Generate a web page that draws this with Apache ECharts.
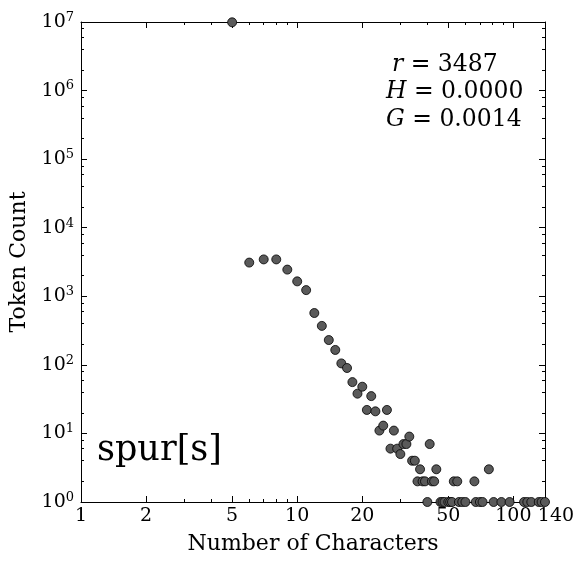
<!DOCTYPE html>
<html>
<head>
<meta charset="utf-8">
<title>spur[s]</title>
<script src="https://cdn.jsdelivr.net/npm/echarts@6/dist/echarts.min.js"></script>
<style>
  html, body { margin: 0; padding: 0; background: #fff; }
  #main { width: 583px; height: 564px; }
</style>
</head>
<body>
<div id="main"></div>
<script>
// values
const charLengths = [
  5, 6, 7, 8, 9, 10, 11, 12, 13, 14, 15, 16, 17, 18, 19, 20, 21, 22, 23, 24,
  25, 26, 27, 28, 29, 30, 31, 32, 33, 34, 35, 36, 37, 38, 39, 40, 41, 42, 43, 44,
  46, 47, 48, 50, 51, 52, 53, 55, 56, 58, 60, 66, 67, 70, 72, 77, 81, 88, 96,
  112, 116, 121, 131, 135, 140
];
const tokenCounts = [
  9900000, 3100, 3450, 3450, 2450, 1650, 1230, 570, 370, 230, 165, 105, 90, 56, 38, 48, 22, 35, 21, 11,
  13, 22, 6, 11, 6, 5, 7, 7, 9, 4, 4, 2, 3, 2, 2, 1, 7, 2, 2, 3,
  1, 1, 1, 1, 1, 1, 2, 2, 1, 1, 1, 2, 1, 1, 1, 3, 1, 1, 1,
  1, 1, 1, 1, 1, 1
];
const xTickLabels = [1, 2, 5, 10, 20, 50, 100, 140];
const xMinorTicks = [3, 4, 6, 7, 8, 9, 30, 40, 60, 70, 80, 90];
const yDecades = [0, 1, 2, 3, 4, 5, 6, 7];
const yMinorSubs = [2, 4, 6, 8];
const statNames = ["r", "H", "G"];
const statValues = ["3487", "0.0000", "0.0014"];
const wordLabel = "spur[s]";

document.addEventListener("DOMContentLoaded", function () {
  const chartContainer = document.getElementById("main");
  const lg = Math.log10;
  const serif = "DejaVu Serif";
  const black = { color: "#000", width: 1 };

  const xMin = 1, xMax = 140, yMin = 1, yMax = 1e7;
  const xLogMax = lg(xMax);
  const yLogMax = lg(yMax);

  const points = charLengths.map((x, i) => [x, tokenCounts[i]]);
  const xMajor = xTickLabels.map(lg);
  const xMinor = xMinorTicks.map(lg);
  const yMinor = [];
  yDecades.slice(0, -1).forEach((d) => {
    yMinorSubs.forEach((m) => yMinor.push(d + lg(m)));
  });

  // overlay axis that only draws a frame side, ticks and maybe labels
  function frameAxis(position, max, ticks, len, line, label) {
    return {
      type: "value",
      min: 0,
      max: max,
      position: position,
      axisLine: { show: line, onZero: false, lineStyle: black },
      axisTick: { show: true, inside: true, length: len, customValues: ticks, lineStyle: black },
      axisLabel: label || { show: false },
      splitLine: { show: false },
      minorTick: { show: false },
      axisPointer: { show: false }
    };
  }

  function renderChart() {
    const myChart = echarts.init(chartContainer);

    const xBottom = frameAxis("bottom", xLogMax, xMajor, 6, true, {
      show: true,
      customValues: xMajor,
      margin: 5,
      color: "#000",
      fontFamily: serif,
      fontSize: 19,
      formatter: function (v) {
        const n = Math.round(Math.pow(10, v));
        return n === 140 ? "{e|140}" : String(n);
      },
      rich: {
        e: { fontFamily: serif, fontSize: 19, color: "#000", padding: [0, 0, 0, 22] }
      }
    });
    xBottom.name = "Number of Characters";
    xBottom.nameLocation = "middle";
    xBottom.nameGap = 31;
    xBottom.nameTextStyle = { fontFamily: serif, fontSize: 22, color: "#000" };

    const yLeft = frameAxis("left", yLogMax, yDecades, 6, true, {
      show: true,
      customValues: yDecades,
      margin: 7,
      color: "#000",
      formatter: function (v) {
        return "{b|10}{s|" + Math.round(v) + "}";
      },
      rich: {
        b: { fontFamily: serif, fontSize: 19, color: "#000", lineHeight: 22 },
        s: { fontFamily: serif, fontSize: 13, color: "#000", lineHeight: 13, verticalAlign: "top" }
      }
    });
    yLeft.name = "Token Count";
    yLeft.nameLocation = "middle";
    yLeft.nameGap = 48;
    yLeft.nameTextStyle = { fontFamily: serif, fontSize: 22, color: "#000" };

    const option = {
      animation: false,
      grid: {
        left: 81,
        right: 38,
        top: 22,
        bottom: 62,
        containLabel: false,
        outerBoundsMode: "none"
      },
      xAxis: [
        { type: "log", logBase: 10, min: xMin, max: xMax, show: false },
        xBottom,
        frameAxis("bottom", xLogMax, xMinor, 3, false),
        frameAxis("top", xLogMax, xMajor, 6, true),
        frameAxis("top", xLogMax, xMinor, 3, false)
      ],
      yAxis: [
        { type: "log", logBase: 10, min: yMin, max: yMax, show: false },
        yLeft,
        frameAxis("left", yLogMax, yMinor, 3, false),
        frameAxis("right", yLogMax, yDecades, 6, true),
        frameAxis("right", yLogMax, yMinor, 3, false)
      ],
      series: [
        {
          name: "tokens",
          type: "scatter",
          xAxisIndex: 0,
          yAxisIndex: 0,
          clip: false,
          symbol: "circle",
          symbolSize: 9,
          itemStyle: { color: "#5a5a5a", borderColor: "#000", borderWidth: 0.8, opacity: 1 },
          emphasis: { disabled: true },
          data: points,
          z: 3
        }
      ],
      graphic: [
        {
          type: "text",
          x: 97,
          y: 451,
          style: { text: wordLabel, fontFamily: serif, fontSize: 35, fill: "#000", verticalAlign: "middle" }
        }
      ].concat(statNames.map((name, i) => ({
        type: "text",
        x: i === 0 ? 392 : 386,
        y: 64.5 + i * 27.5,
        style: {
          text: "{v|" + name + "}{n| = " + statValues[i] + "}",
          verticalAlign: "middle",
          rich: {
            v: { fontFamily: serif, fontStyle: "italic", fontSize: 23.5, fill: "#000" },
            n: { fontFamily: serif, fontSize: 23.5, fill: "#000" }
          }
        }
      })))
    };

    myChart.setOption(option);
  }

  renderChart();
});
</script>
</body>
</html>
